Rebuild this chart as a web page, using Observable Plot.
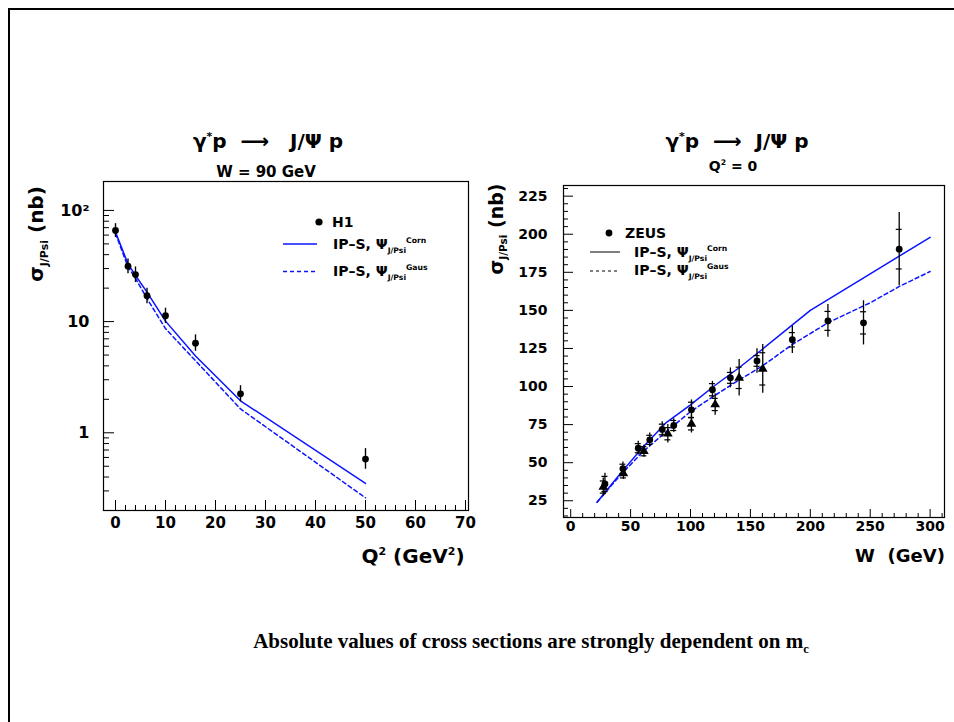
<!DOCTYPE html>
<html><head><meta charset="utf-8">
<script src="https://cdn.jsdelivr.net/npm/d3@7"></script>
<script src="https://cdn.jsdelivr.net/npm/@observablehq/plot@0.6"></script>
<style>
body{margin:0;background:#fff;}
#wrap{position:relative;width:954px;height:722px;overflow:hidden;font-family:"DejaVu Sans",sans-serif;font-weight:bold;color:#000;}
.t{position:absolute;white-space:nowrap;transform:translate(-50%,-50%);line-height:1;}
.l{position:absolute;white-space:nowrap;transform:translate(0,-50%);line-height:1;}
.p{position:absolute;left:0;top:0;}
sup,sub{font-size:0.55em;line-height:0;}
.bl{position:absolute;background:#000;}
</style></head><body><div id="wrap"></div>
<script>
// ---------- Left panel: gamma* p -> J/psi p, W = 90 GeV ----------
const h1Q2    = [0, 2.5, 4, 6.3, 10, 16, 25, 50];
const h1Sigma = [66, 31.5, 26.5, 17.1, 11.3, 6.4, 2.24, 0.58];
const h1Low   = [57, 27, 22.5, 14.5, 9.6, 5.4, 1.9, 0.47];
const h1High  = [76, 36.5, 31, 20, 13.2, 7.6, 2.65, 0.72];

const ipsQ2      = [0, 2.5, 4, 6.3, 10, 16, 25, 50];
const ipsCornQ2  = [64, 33, 26, 18.4, 10.1, 4.9, 1.94, 0.35];
const ipsGausQ2  = [62, 31, 24.5, 16.1, 8.65, 4.45, 1.64, 0.26];

const leftXMajor = [0, 10, 20, 30, 40, 50, 60, 70];
const leftYMajor = [1, 10, 100];

// ---------- Right panel: gamma p -> J/psi p, Q2 = 0 ----------
const zeusW     = [28.6, 43.6, 56.4, 66, 76.4, 86, 100.8, 118.3, 133.3, 155.5, 185, 214.7, 244.4, 274.2];
const zeusSigma = [36, 46, 59.5, 65, 71.8, 74.4, 84.7, 97.9, 105.7, 116.8, 130.7, 143.1, 141.8, 190.2];
const zeusStat  = [5, 3, 3, 3, 3.5, 3.3, 5, 4, 3.6, 3.5, 4.7, 6.2, 7.3, 13];
const zeusTotal = [7, 4.5, 4.5, 4.5, 5, 4.5, 6.5, 5.5, 6.5, 8, 9, 10.7, 14.5, 24];

const triW     = [27.2, 44, 61.1, 81.1, 100.8, 120.6, 140.6, 160.3];
const triSigma = [34, 43, 57.5, 69, 75.5, 88.2, 105.7, 111.6];
const triStat  = [4, 3, 3, 4, 4, 4, 7, 10.6];
const triTotal = [6, 4, 4, 6, 6, 7, 12, 16];

const ipsCornWx = [22, 40, 60, 80, 100, 120, 140, 160, 200, 250, 300];
const ipsCornW  = [24, 41.5, 60, 76.5, 88, 100.5, 112, 124.5, 150, 174, 198];
const ipsGausWx = [22, 40, 60, 80, 100, 120, 140, 160, 185, 215, 250, 275, 300];
const ipsGausW  = [24, 40.5, 57, 70.5, 83.5, 94, 104, 113.5, 127.6, 142, 155, 166, 175.5];

const rightXMajor = [0, 50, 100, 150, 200, 250, 300];
const rightYMajor = [25, 50, 75, 100, 125, 150, 175, 200, 225];

// ---------- build tables ----------
const h1 = h1Q2.map((q, i) => ({q, s: h1Sigma[i], lo: h1Low[i], hi: h1High[i]}));
const corn1 = ipsQ2.map((q, i) => ({q, s: ipsCornQ2[i]}));
const gaus1 = ipsQ2.map((q, i) => ({q, s: ipsGausQ2[i]}));
const zeus = zeusW.map((w, i) => ({w, s: zeusSigma[i], st: zeusStat[i], tot: zeusTotal[i]}));
const tri = triW.map((w, i) => ({w, s: triSigma[i], st: triStat[i], tot: triTotal[i]}));
const corn2 = ipsCornWx.map((w, i) => ({w, s: ipsCornW[i]}));
const gaus2 = ipsGausWx.map((w, i) => ({w, s: ipsGausW[i]}));

const leftXMinor = d3.range(2, 71, 2).filter(v => v % 10 !== 0);
const leftYMinor = [];
[0.1, 1, 10, 100].forEach(dec => [2,3,4,5,6,7,8,9].forEach(k => { const v = k*dec; if (v >= 0.2 && v <= 180) leftYMinor.push(v); }));
const rightXMinor = d3.range(10, 311, 10).filter(v => v % 50 !== 0);
const rightYMinor = d3.range(15, 231, 5).filter(v => v % 25 !== 0);

const BLUE = "#0a14ff";
const font = {fontFamily: "DejaVu Sans", fontWeight: "bold"};
const st = {background: "transparent", overflow: "visible", fontFamily: "DejaVu Sans", fontWeight: "bold", color: "black"};

const left = Plot.plot({
  width: 954, height: 722,
  marginLeft: 103, marginRight: 954 - 468, marginTop: 181, marginBottom: 722 - 510,
  x: {domain: [-2.4, 70.6]},
  y: {type: "log", domain: [0.2, 182]},
  style: st,
  marks: [
    Plot.axisX({ticks: leftXMajor, tickSize: -10, tickFormat: () => "", label: null, stroke: "black"}),
    Plot.axisX({ticks: leftXMinor, tickSize: -5, tickFormat: () => "", label: null, stroke: "black"}),
    Plot.axisX({ticks: leftXMajor, tickSize: 0, tickPadding: 7, fontSize: 15, ...font, label: null, fill: "black"}),
    Plot.axisY({ticks: leftYMajor, tickSize: -11, tickFormat: () => "", label: null, stroke: "black"}),
    Plot.axisY({ticks: leftYMinor, tickSize: -6, tickFormat: () => "", label: null, stroke: "black"}),
    Plot.axisY({ticks: leftYMajor, tickSize: 0, tickPadding: 14, fontSize: 16, ...font, label: null, fill: "black",
      tickFormat: d => d === 100 ? "10²" : String(d)}),
    Plot.line(corn1, {x: "q", y: "s", stroke: BLUE, strokeWidth: 1.5}),
    Plot.line(gaus1, {x: "q", y: "s", stroke: BLUE, strokeWidth: 1.5, strokeDasharray: "4,3"}),
    Plot.ruleX(h1, {x: "q", y1: "lo", y2: "hi", stroke: "black", strokeWidth: 1.4}),
    Plot.dot(h1, {x: "q", y: "s", r: 3.4, fill: "black", stroke: "none"}),
    Plot.frame({stroke: "black", strokeWidth: 1.2})
  ]
});
left.classList.add("p");

const right = Plot.plot({
  width: 954, height: 722,
  marginLeft: 563, marginRight: 10, marginTop: 185, marginBottom: 722 - 517,
  x: {domain: [-6, 312]},
  y: {domain: [14, 232]},
  style: st,
  marks: [
    Plot.axisX({ticks: rightXMajor, tickSize: -8, tickFormat: () => "", label: null, stroke: "black"}),
    Plot.axisX({ticks: rightXMinor, tickSize: -4, tickFormat: () => "", label: null, stroke: "black"}),
    Plot.axisX({ticks: rightXMajor, tickSize: 0, tickPadding: 4, fontSize: 14, ...font, label: null, fill: "black"}),
    Plot.axisY({ticks: rightYMajor, tickSize: -10, tickFormat: () => "", label: null, stroke: "black"}),
    Plot.axisY({ticks: rightYMinor, tickSize: -5, tickFormat: () => "", label: null, stroke: "black"}),
    Plot.axisY({ticks: rightYMajor, tickSize: 0, tickPadding: 16, fontSize: 14, ...font, label: null, fill: "black"}),
    Plot.line(corn2, {x: "w", y: "s", stroke: BLUE, strokeWidth: 1.5}),
    Plot.line(gaus2, {x: "w", y: "s", stroke: BLUE, strokeWidth: 1.5, strokeDasharray: "4,3"}),
    Plot.ruleX(zeus, {x: "w", y1: d => d.s - d.tot, y2: d => d.s + d.tot, stroke: "black", strokeWidth: 1.3}),
    Plot.ruleY(zeus, {y: d => d.s - d.st, x1: d => d.w - 2.5, x2: d => d.w + 2.5, stroke: "black", strokeWidth: 1.2}),
    Plot.ruleY(zeus, {y: d => d.s + d.st, x1: d => d.w - 2.5, x2: d => d.w + 2.5, stroke: "black", strokeWidth: 1.2}),
    Plot.ruleX(tri, {x: "w", y1: d => d.s - d.tot, y2: d => d.s + d.tot, stroke: "black", strokeWidth: 1.3}),
    Plot.ruleY(tri, {y: d => d.s - d.st, x1: d => d.w - 2.5, x2: d => d.w + 2.5, stroke: "black", strokeWidth: 1.2}),
    Plot.ruleY(tri, {y: d => d.s + d.st, x1: d => d.w - 2.5, x2: d => d.w + 2.5, stroke: "black", strokeWidth: 1.2}),
    Plot.dot(zeus, {x: "w", y: "s", r: 3.4, fill: "black", stroke: "none"}),
    Plot.dot(tri, {x: "w", y: "s", r: 3.6, symbol: "triangle", fill: "black", stroke: "none"}),
    Plot.frame({stroke: "black", strokeWidth: 1.2})
  ]
});
right.classList.add("p");

const wrap = document.getElementById("wrap");
wrap.innerHTML = `
<div class="bl" style="left:8px;top:8px;width:946px;height:1.5px"></div>
<div class="bl" style="left:8px;top:8px;width:1.5px;height:714px"></div>
<div class="t" style="left:268px;top:141px;font-size:20px">γ<sup>*</sup>p&nbsp;&nbsp;⟶&nbsp;&nbsp;&nbsp;J/Ψ p</div>
<div class="t" style="left:266px;top:172px;font-size:15px">W = 90 GeV</div>
<div class="t" style="left:737px;top:141px;font-size:20px">γ<sup>*</sup>p&nbsp;&nbsp;⟶&nbsp;&nbsp;J/Ψ p</div>
<div class="t" style="left:733px;top:166px;font-size:14px">Q<sup>2</sup> = 0</div>
<div class="t" style="left:36px;top:234px;font-size:20px;transform:translate(-50%,-50%) rotate(-90deg)">σ<sub>J/Psi</sub> (nb)</div>
<div class="t" style="left:496px;top:229px;font-size:19px;transform:translate(-50%,-50%) rotate(-90deg)">σ<sub>J/Psi</sub> (nb)</div>
<div class="t" style="left:413px;top:556px;font-size:20px">Q<sup>2</sup> (GeV<sup>2</sup>)</div>
<div class="t" style="left:900px;top:556px;font-size:18px">W&nbsp;&nbsp;(GeV)</div>
<div class="l" style="left:332px;top:222px;font-size:14px">H1</div>
<div class="l" style="left:333px;top:244px;font-size:14px">IP–S, Ψ<sub>J/Psi</sub><sup>Corn</sup></div>
<div class="l" style="left:333px;top:271px;font-size:14px">IP–S, Ψ<sub>J/Psi</sub><sup>Gaus</sup></div>
<div class="l" style="left:625px;top:233px;font-size:14px">ZEUS</div>
<div class="l" style="left:634px;top:252px;font-size:14px">IP–S, Ψ<sub>J/Psi</sub><sup>Corn</sup></div>
<div class="l" style="left:634px;top:270px;font-size:14px">IP–S, Ψ<sub>J/Psi</sub><sup>Gaus</sup></div>
<div class="t" style="left:531px;top:641px;font-size:21px;font-family:'Liberation Serif',serif">Absolute values of cross sections are strongly dependent on m<sub style="font-size:0.6em">c</sub></div>
`;
wrap.appendChild(left);
wrap.appendChild(right);
const ns = "http://www.w3.org/2000/svg";
const leg = document.createElementNS(ns, "svg");
leg.setAttribute("width", 954); leg.setAttribute("height", 722);
leg.setAttribute("class", "p");
leg.innerHTML = `
<circle cx="319" cy="222" r="3.6" fill="black"/>
<line x1="283" x2="317" y1="244" y2="244" stroke="${BLUE}" stroke-width="1.5"/>
<line x1="283" x2="317" y1="271.5" y2="271.5" stroke="${BLUE}" stroke-width="1.5" stroke-dasharray="4,3"/>
<circle cx="609" cy="233" r="3.4" fill="black"/>
<line x1="590" x2="620" y1="252" y2="252" stroke="black" stroke-width="1"/>
<line x1="590" x2="620" y1="271" y2="271" stroke="black" stroke-width="1" stroke-dasharray="3,3"/>
`;
wrap.appendChild(leg);
</script>
</body></html>
